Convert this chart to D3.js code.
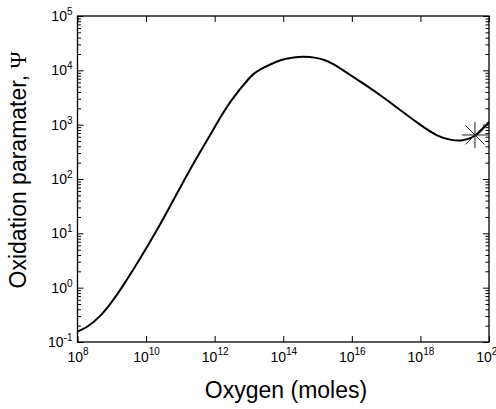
<!DOCTYPE html>
<html>
<head>
<meta charset="utf-8">
<script src="https://cdn.jsdelivr.net/npm/d3@7"></script>
<style>
  html, body { margin: 0; padding: 0; background: #fff; }
  svg { display: block; }
  text { font-family: "Liberation Sans", Arial, sans-serif; fill: #000; }
</style>
</head>
<body>
<svg id="chart" width="496" height="409"></svg>
<script>
// ---- data ----
const xTickExps = [8, 10, 12, 14, 16, 18, 20];
const yTickExps = [-1, 0, 1, 2, 3, 4, 5];
const oxygen = [1.0e8, 2.0e8, 4.57e8, 1.0e9, 1.95e9, 6.03e9, 1.82e10, 5.01e10, 1.35e11,
  3.8e11, 1.1e12, 3.16e12, 1.0e13, 2.09e13, 7.94e13, 1.78e14, 3.98e14, 1.58e15, 5.62e15,
  2.24e16, 8.32e16, 2.82e17, 9.77e17, 3.16e18, 7.94e18, 1.58e19, 3.98e19, 1.0e20];
const psi = [0.155, 0.195, 0.302, 0.55, 1.0, 3.09, 10, 31.6, 100,
  316, 1000, 2850, 7080, 10300, 15140, 17000, 17780, 15490, 10000,
  5620, 3160, 1780, 1000, 631, 525, 513, 631, 1120];
const markerOxygen = [3.89e19];
const markerPsi = [646];
const xTitle = "Oxygen (moles)";
const yTitle = "Oxidation paramater, ";
const yTitleSymbol = "\u03A8";

// ---- layout ----
const svg = d3.select("#chart");
const L = 77.5, R = 489, T = 16, B = 342;

const x = d3.scaleLog().domain([1e8, 1e20]).range([L, R]);
const y = d3.scaleLog().domain([1e-1, 1e5]).range([B, T]);

const xTicks = xTickExps.map(e => Math.pow(10, e));
const yTicks = yTickExps.map(e => Math.pow(10, e));
const yMinor = [];
yTickExps.slice(0, -1).forEach(e => { for (let k = 2; k <= 9; k++) yMinor.push(k * Math.pow(10, e)); });

function supLabel(sel, exps, sizeMain, sizeSup, raise) {
  sel.each(function(d, i) {
    const t = d3.select(this);
    t.text(null);
    t.append("tspan").attr("font-size", sizeMain).text("10");
    t.append("tspan").attr("font-size", sizeSup).attr("dy", -raise).text(exps[i]);
  });
}

// bottom axis
const gxB = svg.append("g").attr("transform", `translate(0,${B})`)
  .call(d3.axisBottom(x).tickValues(xTicks).tickSizeInner(-6).tickSizeOuter(0).tickPadding(13));
gxB.select(".domain").remove();
gxB.selectAll("text").attr("dy", "0.71em");
supLabel(gxB.selectAll(".tick text"), xTickExps, 14, 10, 7);

// top axis (ticks only)
const gxT = svg.append("g").attr("transform", `translate(0,${T})`)
  .call(d3.axisTop(x).tickValues(xTicks).tickSizeInner(-6).tickSizeOuter(0).tickFormat(""));
gxT.select(".domain").remove();

// left axis major
const gyL = svg.append("g").attr("transform", `translate(${L},0)`)
  .call(d3.axisLeft(y).tickValues(yTicks).tickSizeInner(-6).tickSizeOuter(0).tickPadding(5));
gyL.select(".domain").remove();
gyL.selectAll(".tick text").attr("dy", "0.45em").attr("x", -5);
supLabel(gyL.selectAll(".tick text"), yTickExps, 14, 10, 6);

// left minor
const gyLm = svg.append("g").attr("transform", `translate(${L},0)`)
  .call(d3.axisLeft(y).tickValues(yMinor).tickSizeInner(-3.5).tickSizeOuter(0).tickFormat(""));
gyLm.select(".domain").remove();

// right axis major + minor
const gyR = svg.append("g").attr("transform", `translate(${R},0)`)
  .call(d3.axisRight(y).tickValues(yTicks).tickSizeInner(-6).tickSizeOuter(0).tickFormat(""));
gyR.select(".domain").remove();
const gyRm = svg.append("g").attr("transform", `translate(${R},0)`)
  .call(d3.axisRight(y).tickValues(yMinor).tickSizeInner(-3.5).tickSizeOuter(0).tickFormat(""));
gyRm.select(".domain").remove();

svg.selectAll(".tick line").attr("stroke", "#000").attr("stroke-width", 1);

// clip
svg.append("clipPath").attr("id", "clip").append("rect")
  .attr("x", L).attr("y", T).attr("width", R - L).attr("height", B - T);

// curve
const pts = oxygen.map((o, i) => [o, psi[i]]);
const line = d3.line().x(d => x(d[0])).y(d => y(d[1])).curve(d3.curveNatural);
svg.append("path").attr("d", line(pts)).attr("fill", "none")
  .attr("stroke", "#000").attr("stroke-width", 2).attr("clip-path", "url(#clip)");

// asterisk marker
markerOxygen.forEach((o, i) => {
  const cx = x(o), cy = y(markerPsi[i]);
  const g = svg.append("g").attr("stroke", "#222").attr("stroke-width", 1);
  const r = 13, rd = 9.5;
  [[r, 0], [0, r], [rd, rd], [rd, -rd]].forEach(([dx, dy]) => {
    g.append("line").attr("x1", cx - dx).attr("y1", cy - dy).attr("x2", cx + dx).attr("y2", cy + dy);
  });
});

// frame
svg.append("rect").attr("x", L).attr("y", T).attr("width", R - L).attr("height", B - T)
  .attr("fill", "none").attr("stroke", "#000").attr("stroke-width", 1.3);

// titles
svg.append("text").attr("x", 286).attr("y", 398).attr("text-anchor", "middle")
  .attr("font-size", 23).text(xTitle);

const yt = svg.append("text").attr("transform", `translate(26,170) rotate(-90)`)
  .attr("text-anchor", "middle").attr("font-size", 23);
yt.append("tspan").text(yTitle);
yt.append("tspan").attr("font-family", "'Liberation Serif', 'DejaVu Serif', serif").text(yTitleSymbol);
</script>
</body>
</html>
